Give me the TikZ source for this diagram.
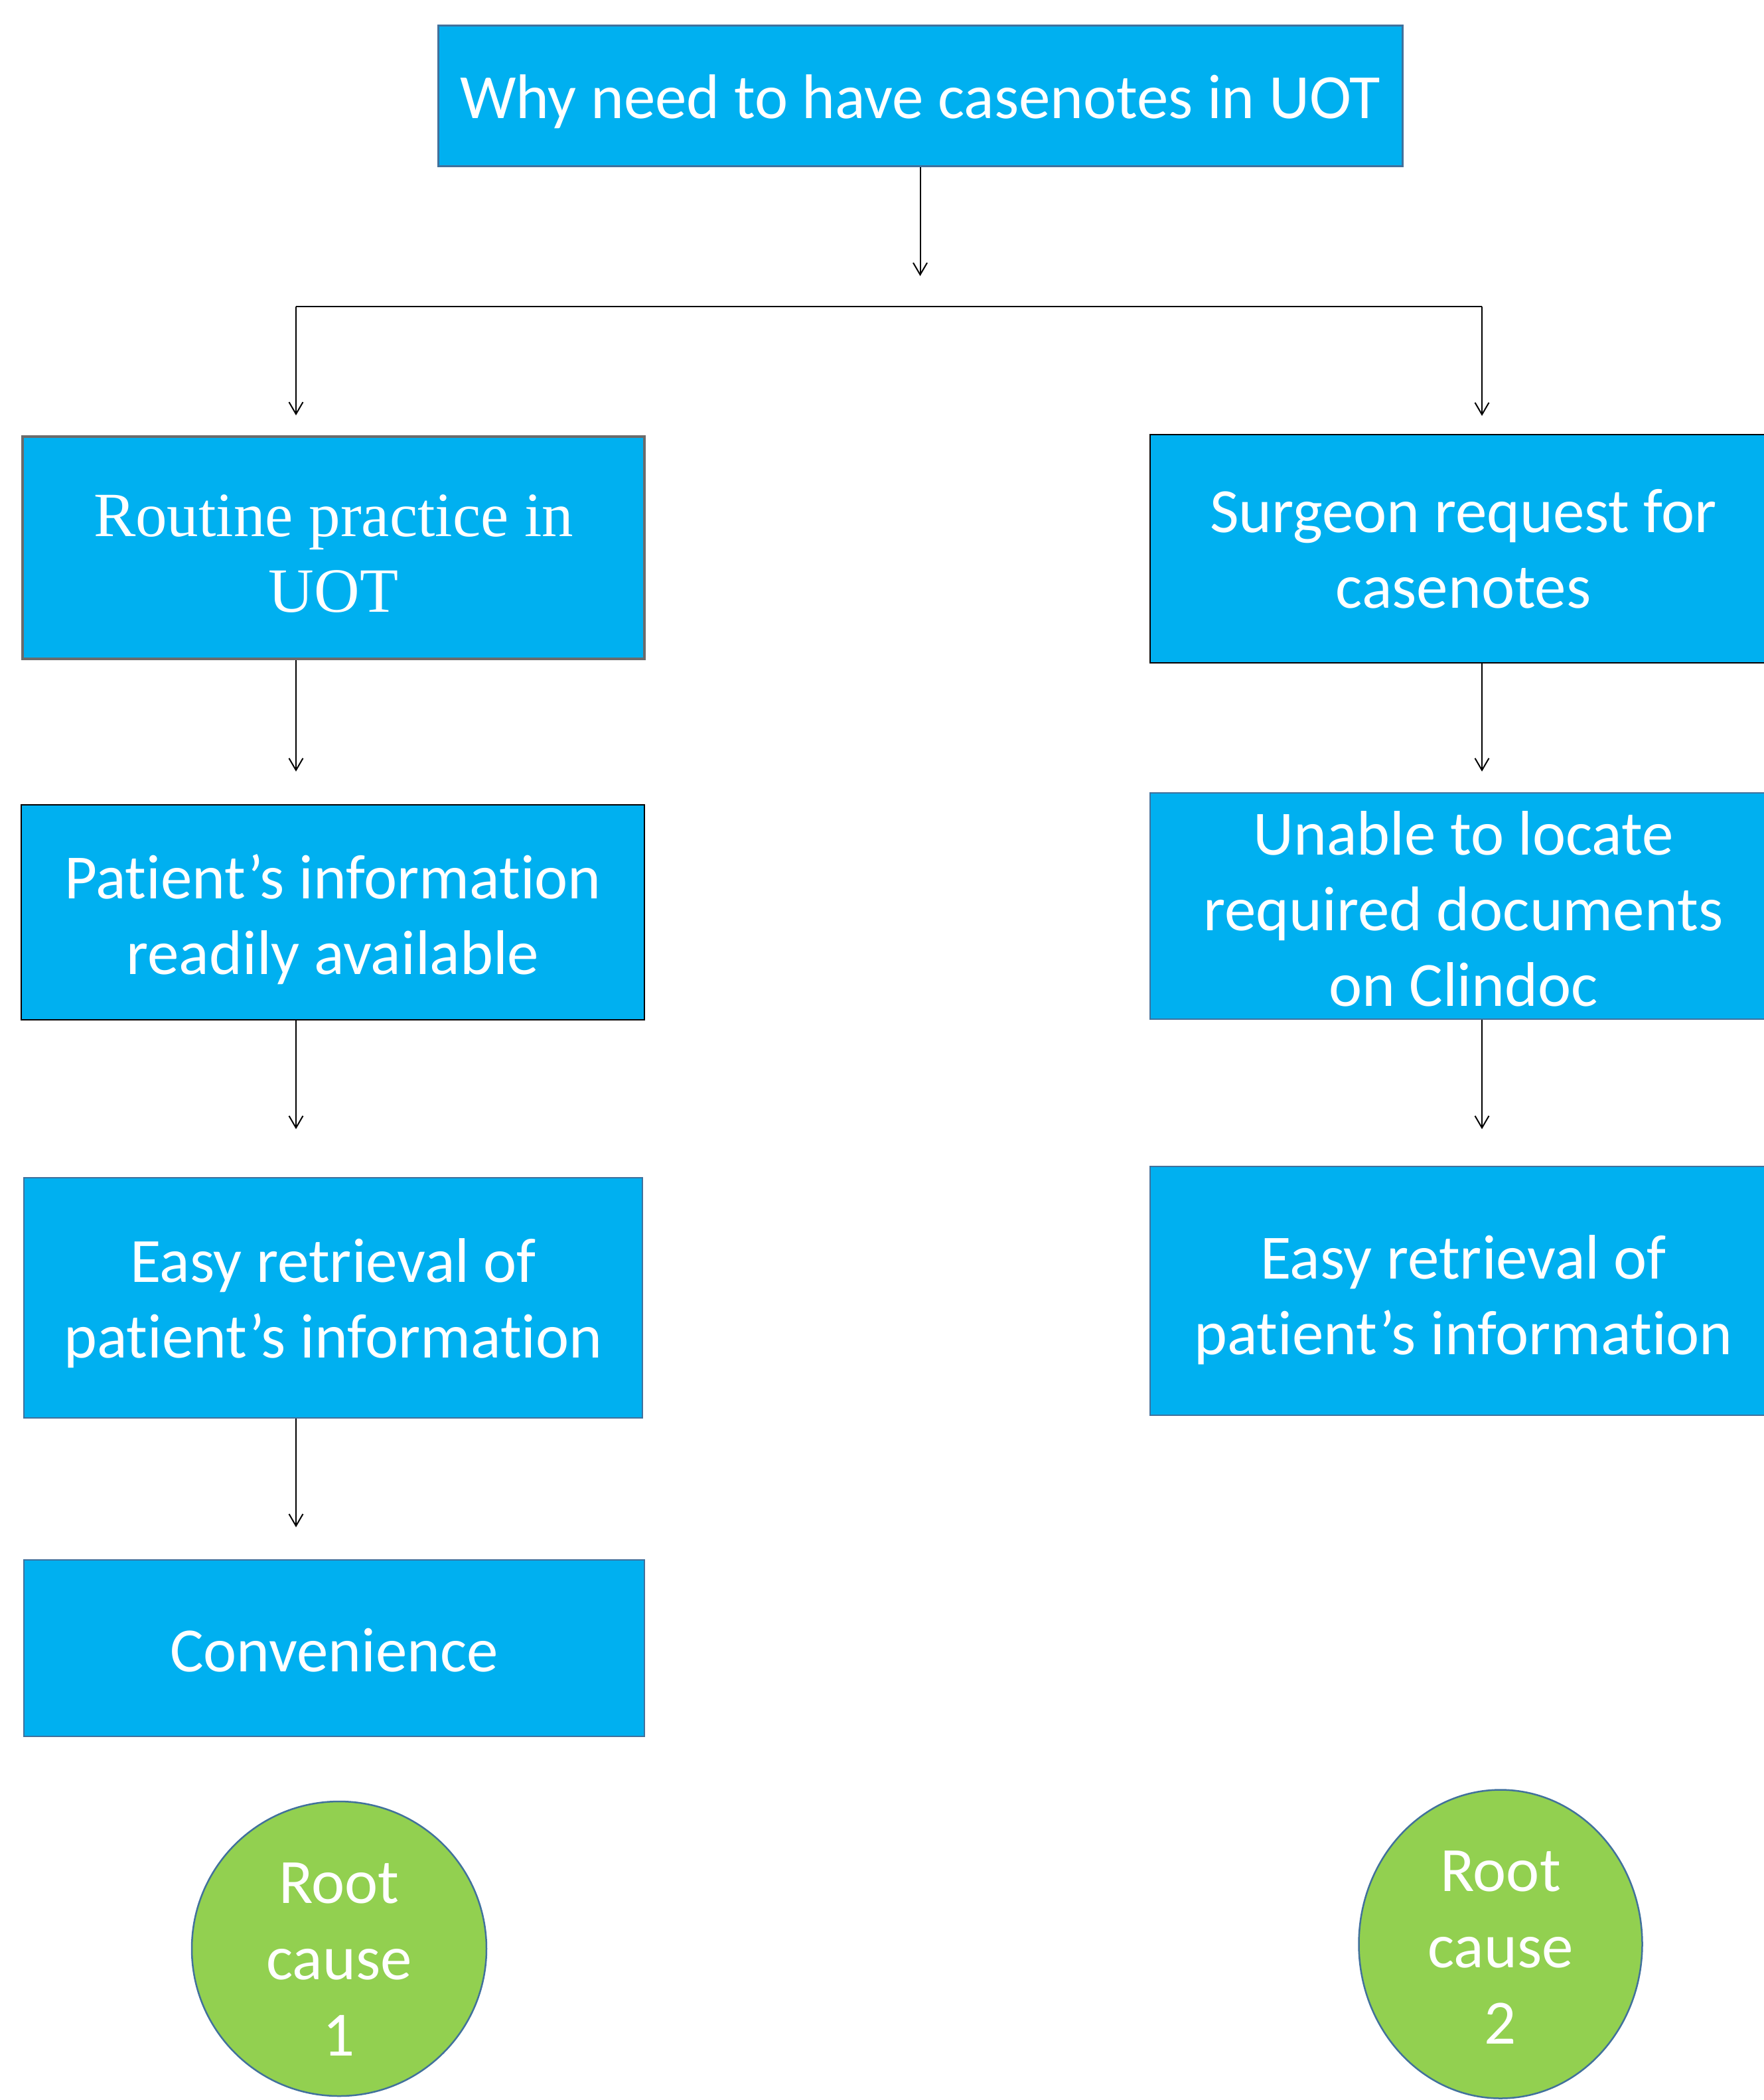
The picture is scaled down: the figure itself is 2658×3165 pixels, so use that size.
\documentclass[tikz,border=0pt]{standalone}
\usepackage{fontspec}
\setmainfont{Carlito}[Ligatures={NoCommon,NoContextual}]
\newfontfamily\timesfont{Liberation Serif}
\usetikzlibrary{arrows.meta,shapes.geometric,calc}
\definecolor{boxblue}{HTML}{00B0F0}
\definecolor{rootgreen}{HTML}{92D050}
\definecolor{edgeblue}{HTML}{41719C}
\definecolor{edgegray}{HTML}{6B6B6B}
% text block centred on the node, lowered by #1
\newcommand\celltext[2]{\smash{\raisebox{#1}{\begin{tabular}{@{}c@{}}#2\end{tabular}}}}
\begin{document}
\begin{tikzpicture}[x=1pt,y=-1pt,
  box/.style={rectangle, fill=boxblue, text=white, inner sep=0pt,
    font=\fontsize{95}{114}\selectfont, line width=2.5pt},
  rootnode/.style={ellipse, fill=rootgreen, draw=edgeblue, line width=2.5pt, text=white,
    inner sep=0pt, font=\fontsize{95}{115}\selectfont},
  arr/.style={line width=2pt, -{Straight Barb[length=18pt,width=21pt]}},
  conn/.style={line width=2pt}]
\useasboundingbox (0,0) rectangle (2658,3165);
\clip (0,0) rectangle (2658,3165);

\node[box, draw=edgeblue, line width=3pt, minimum width=1453pt, minimum height=212pt] (top) at (1386.5,144)
  {\celltext{-18pt}{Why need to have casenotes in UOT}};

\node[box, draw=edgegray, line width=4pt, minimum width=937pt, minimum height=335pt,
  font=\timesfont\fontsize{95}{114}\selectfont] (l1) at (502.5,825.5) {\celltext{-23pt}{Routine practice in\\UOT}};
\node[box, draw=black, minimum width=939pt, minimum height=324pt] (l2) at (501.5,1375)
  {\celltext{-20pt}{Patient’s information\\readily available}};
\node[box, draw=edgeblue, minimum width=932pt, minimum height=362pt] (l3) at (502,1956)
  {\celltext{-17pt}{Easy retrieval of\\patient’s information}};
\node[box, draw=edgeblue, minimum width=935pt, minimum height=266pt] (l4) at (503.5,2484)
  {\celltext{-19pt}{Convenience}};

\node[box, draw=black, minimum width=944pt, minimum height=344pt] (r1) at (2205,827)
  {\celltext{-16pt}{Surgeon request for\\casenotes}};
\node[box, draw=edgeblue, minimum width=944pt, minimum height=341pt] (r2) at (2205,1365.5)
  {\celltext{-20pt}{Unable to locate\\required documents\\on Clindoc}};
\node[box, draw=edgeblue, minimum width=944pt, minimum height=375pt] (r3) at (2205,1945.5)
  {\celltext{-22pt}{Easy retrieval of\\patient’s information}};

\node[rootnode, minimum width=444pt, minimum height=444pt] (c1) at (511,2937)
  {\celltext{-30pt}{Root\\cause\\1}};
\node[rootnode, minimum width=427pt, minimum height=465pt] (c2) at (2261,2930)
  {\celltext{-19pt}{Root\\cause\\2}};

\coordinate (cl) at (446,462);
\coordinate (cr) at (2233,462);
\draw[arr, shorten >=46pt] (top.south) -- (top.south |- cl);
\draw[conn] (cl) -- (cr);
\draw[arr, shorten >=30pt] (cl) -- (l1.north -| cl);
\draw[arr, shorten >=27pt] (cr) -- (r1.north -| cr);
\draw[arr, shorten >=49pt] (l1.south -| cl) -- (l2.north -| cl);
\draw[arr, shorten >=72pt] (l2.south -| cl) -- (l3.north -| cl);
\draw[arr, shorten >=48pt] (l3.south -| cl) -- (l4.north -| cl);
\draw[arr, shorten >=31pt] (r1.south -| cr) -- (r2.north -| cr);
\draw[arr, shorten >=55pt] (r2.south -| cr) -- (r3.north -| cr);
\end{tikzpicture}
\end{document}
